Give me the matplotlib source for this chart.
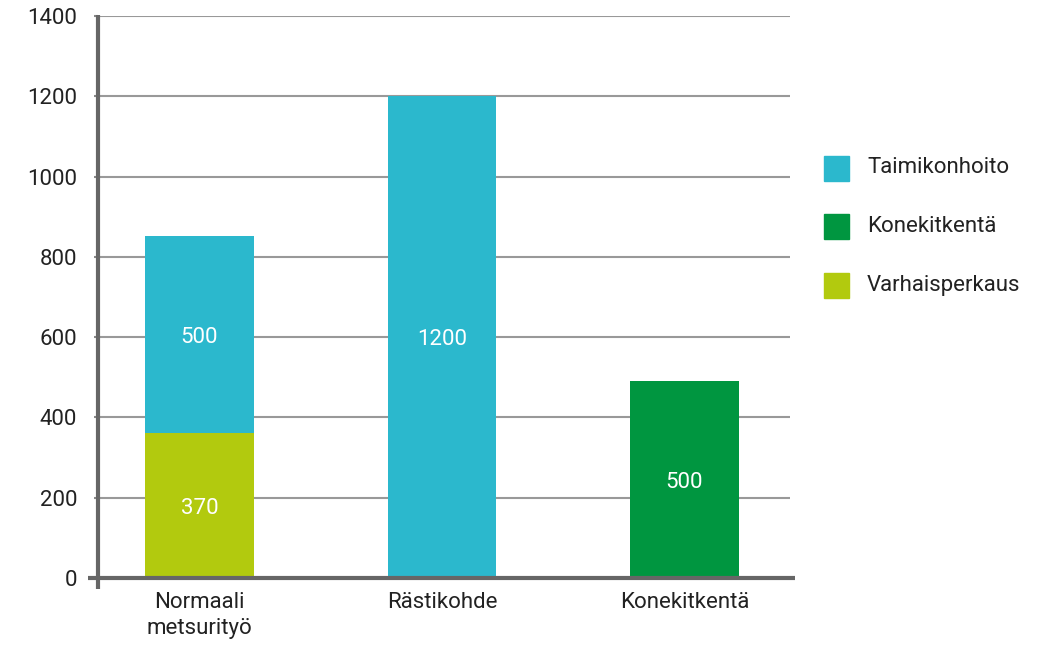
import matplotlib
matplotlib.use("Agg")
import matplotlib.pyplot as plt
from matplotlib.patches import Rectangle

plt.rcParams['font.family'] = ['Roboto', 'DejaVu Sans']

categories = ["Normaali\nmetsurityö", "Rästikohde", "Konekitkentä"]
series_names = ["Taimikonhoito", "Konekitkentä", "Varhaisperkaus"]
colors = {"Taimikonhoito": "#2bb8cd", "Konekitkentä": "#009640", "Varhaisperkaus": "#b2ca0e"}

varhaisperkaus = [360, 0, 0]
taimikonhoito = [493, 1200, 0]
konekitkenta = [0, 0, 490]

label_varhais = ["370", None, None]
label_taimi = ["500", "1200", None]
label_kone = [None, None, "500"]

yticks = [0, 200, 400, 600, 800, 1000, 1200, 1400]

W, H = 1050, 650
fig = plt.figure(figsize=(W / 100, H / 100), dpi=100)
ax = fig.add_axes([98 / W, (H - 578) / H, (790 - 98) / W, (578 - 16) / H])

x = [0, 1, 2]
width = 0.449
text_kw = dict(color="white", fontsize=16, ha="center", va="center_baseline", fontweight="normal")

ax.bar(x, varhaisperkaus, width, color=colors["Varhaisperkaus"], zorder=3)
ax.bar(x, taimikonhoito, width, bottom=varhaisperkaus, color=colors["Taimikonhoito"], zorder=3)
ax.bar(x, konekitkenta, width, bottom=[a + b for a, b in zip(varhaisperkaus, taimikonhoito)],
       color=colors["Konekitkentä"], zorder=3)

for i in x:
    if label_varhais[i]:
        ax.text(i, varhaisperkaus[i] / 2, label_varhais[i], **text_kw, zorder=4)
    if label_taimi[i]:
        ax.text(i, varhaisperkaus[i] + taimikonhoito[i] / 2, label_taimi[i], **text_kw, zorder=4)
    if label_kone[i]:
        b = varhaisperkaus[i] + taimikonhoito[i]
        ax.text(i, b + konekitkenta[i] / 2, label_kone[i], **text_kw, zorder=4)

ax.set_xlim(-0.4186, 2.435)
ax.set_ylim(0, 1400)
ax.set_yticks(yticks)
ax.set_yticklabels([str(v) for v in yticks], fontsize=16, color="#222222")
ax.set_xticks(x)
ax.set_xticklabels(categories, fontsize=16, color="#222222", linespacing=1.3)
ax.tick_params(axis="y", length=3, width=1.5, color="#888888", pad=12)
ax.tick_params(axis="x", length=0, pad=10)

for v in yticks[1:]:
    ax.axhline(v, color="#999999", linewidth=1.5, zorder=1)

for s in ax.spines.values():
    s.set_visible(False)

ax.plot([-10 / 692, 1 + 5 / 692], [0, 0], transform=ax.transAxes, color="#666666",
        linewidth=3, clip_on=False, zorder=5, solid_capstyle="butt")
ax.plot([0, 0], [-11 / 562, 1 + 1 / 562], transform=ax.transAxes, color="#666666",
        linewidth=3, clip_on=False, zorder=5, solid_capstyle="butt")

# legend
leg_rows = [("Taimikonhoito", 168), ("Konekitkentä", 226), ("Varhaisperkaus", 285)]
for name, yc in leg_rows:
    fig.patches.append(Rectangle((824 / W, (H - yc - 12.5) / H), 25 / W, 25 / H,
                                 transform=fig.transFigure, color=colors[name]))
    fig.text(867 / W, (H - yc) / H, name, fontsize=16, color="#222222", va="center", ha="left")

fig.savefig("out.png", dpi=100, facecolor="white")
